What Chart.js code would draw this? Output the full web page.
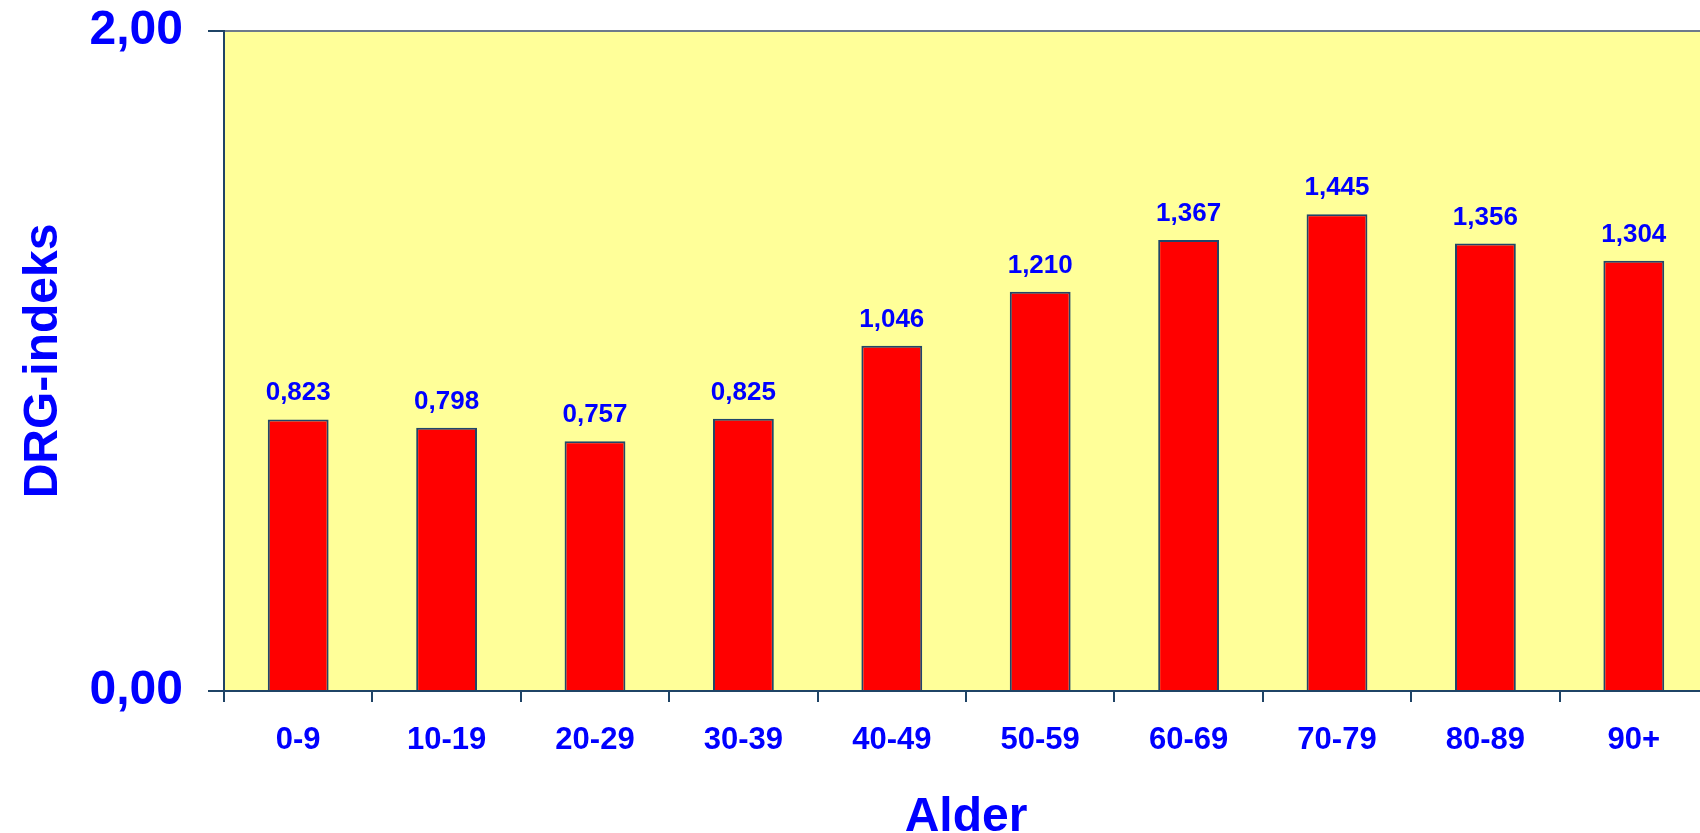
<!DOCTYPE html>
<html>
<head>
<meta charset="utf-8">
<title>DRG-indeks etter alder</title>
<script src="https://cdn.jsdelivr.net/npm/chart.js@4"></script>
<style>
  html, body { margin: 0; padding: 0; background: #fff; overflow: hidden; }
  canvas { display: block; }
</style>
</head>
<body>
<canvas id="chart" width="1708" height="833"></canvas>
<script>
// DRG-indeks per aldersgruppe
const ageGroups = ['0-9', '10-19', '20-29', '30-39', '40-49', '50-59', '60-69', '70-79', '80-89', '90+'];
const drgIndex = [0.823, 0.798, 0.757, 0.825, 1.046, 1.210, 1.367, 1.445, 1.356, 1.304];
const yTicks = [0, 2];

const BLUE = '#0000FF';
const AXIS = '#1F4466';

function fmt(v, d) {
  return v.toFixed(d).replace('.', ',');
}

// yellow plot background + grey top border
const plotBg = {
  id: 'plotBg',
  beforeDraw(chart) {
    const { ctx, chartArea: a } = chart;
    ctx.save();
    ctx.fillStyle = '#FFFF99';
    ctx.fillRect(a.left, a.top, a.right - a.left, a.bottom - a.top);
    ctx.strokeStyle = '#6E7B8B';
    ctx.lineWidth = 2;
    ctx.beginPath();
    ctx.moveTo(a.left, a.top);
    ctx.lineTo(a.right, a.top);
    ctx.stroke();
    ctx.restore();
  }
};

// value labels above bars
const valueLabels = {
  id: 'valueLabels',
  afterDatasetsDraw(chart) {
    const { ctx } = chart;
    const meta = chart.getDatasetMeta(0);
    ctx.save();
    ctx.fillStyle = BLUE;
    ctx.font = 'bold 26px "Liberation Sans", Arial, sans-serif';
    ctx.textAlign = 'center';
    ctx.textBaseline = 'alphabetic';
    meta.data.forEach((bar, i) => {
      ctx.fillText(fmt(drgIndex[i], 3), bar.x, bar.y - 19);
    });
    ctx.restore();
  }
};

new Chart(document.getElementById('chart'), {
  type: 'bar',
  data: {
    labels: ageGroups,
    datasets: [{
      data: drgIndex,
      backgroundColor: '#FF0000',
      borderColor: '#20466A',
      borderWidth: 2,
      categoryPercentage: 1,
      barPercentage: 0.41
    }]
  },
  options: {
    responsive: false,
    animation: false,
    devicePixelRatio: 1,
    layout: { padding: { top: 31, right: 0, left: 0, bottom: 0 } },
    plugins: { legend: { display: false }, tooltip: { enabled: false } },
    scales: {
      x: {
        offset: true,
        afterFit(scale) { scale.height = 142; },
        grid: { offset: true, drawOnChartArea: false, drawTicks: true, tickLength: 11, color: AXIS, lineWidth: 2 },
        border: { display: true, color: AXIS, width: 2 },
        ticks: {
          color: BLUE,
          padding: 20,
          maxRotation: 0,
          autoSkip: false,
          font: { family: '"Liberation Sans", Arial, sans-serif', size: 31, weight: 'bold' }
        },
        title: {
          display: true,
          text: 'Alder',
          color: BLUE,
          padding: { top: 0, bottom: -9 },
          font: { family: '"Liberation Sans", Arial, sans-serif', size: 48, weight: 'bold', lineHeight: 1 }
        }
      },
      y: {
        min: 0,
        max: 2,
        afterFit(scale) {
          scale.width = 224;
          scale.paddingTop = 0;
          scale.paddingBottom = 0;
        },
        afterBuildTicks(scale) { scale.ticks = yTicks.map(v => ({ value: v })); },
        grid: { drawOnChartArea: false, drawTicks: true, tickLength: 16, color: AXIS, lineWidth: 2 },
        border: { display: true, color: AXIS, width: 2 },
        ticks: {
          color: BLUE,
          padding: 25,
          callback: v => fmt(v, 2),
          font: { family: '"Liberation Sans", Arial, sans-serif', size: 48, weight: 'bold' }
        },
        title: {
          display: true,
          text: 'DRG-indeks',
          color: BLUE,
          padding: { top: 20, bottom: 0 },
          font: { family: '"Liberation Sans", Arial, sans-serif', size: 48, weight: 'bold', lineHeight: 1 }
        }
      }
    }
  },
  plugins: [plotBg, valueLabels]
});
</script>
</body>
</html>
